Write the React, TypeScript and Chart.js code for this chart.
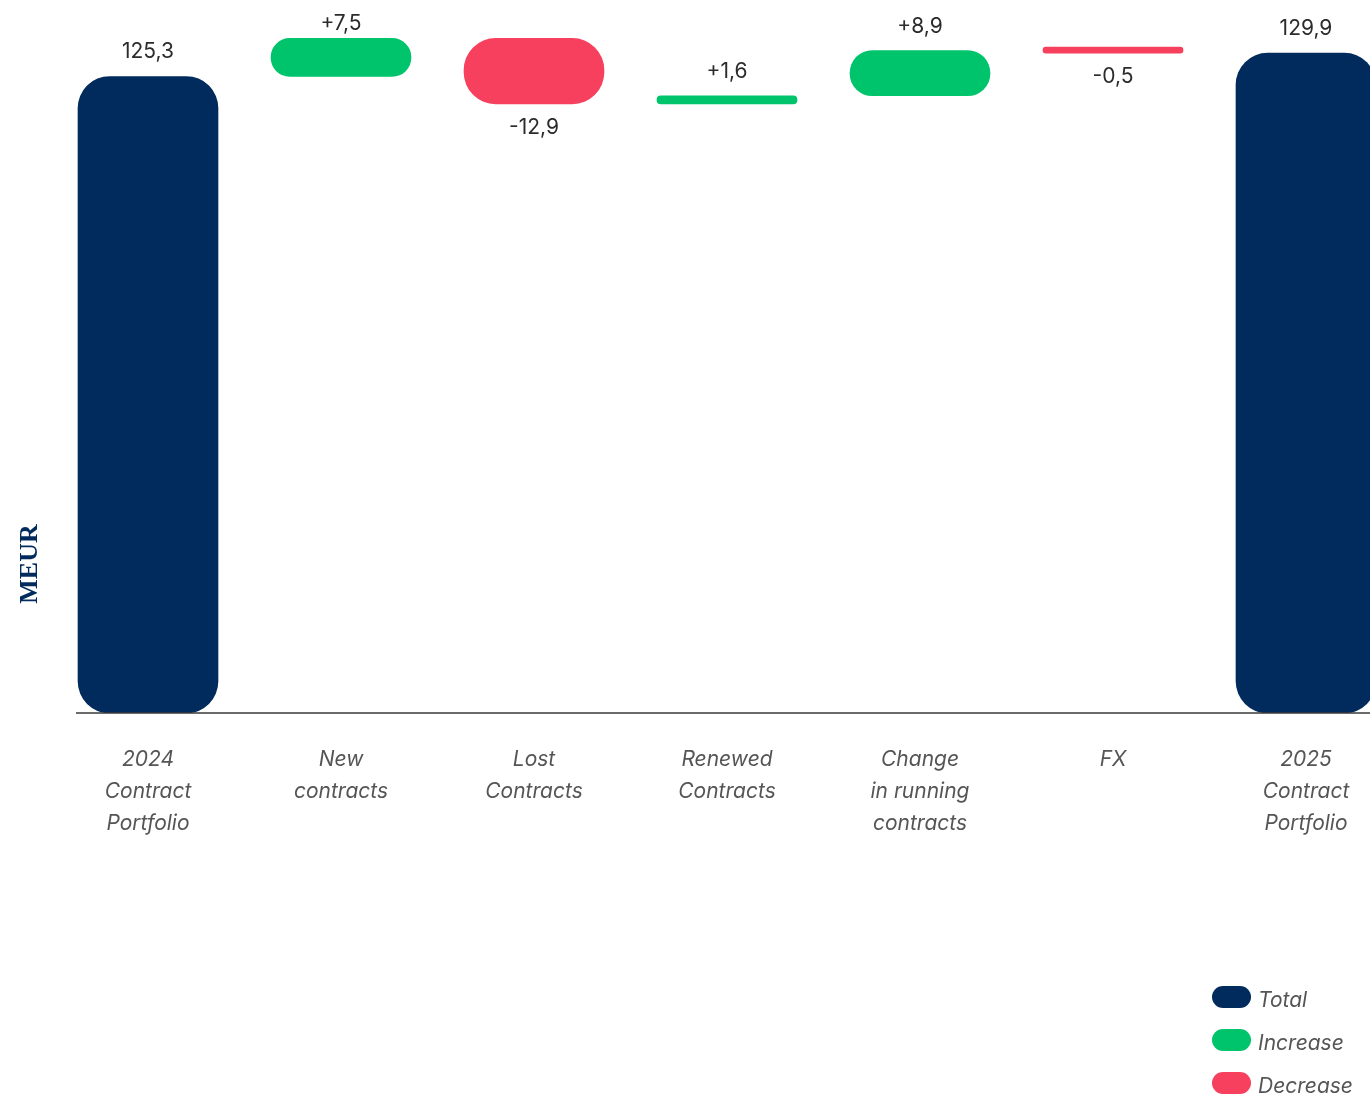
import React, { useEffect, useRef } from 'react';
import { Chart, registerables } from 'chart.js';

Chart.register(...registerables);

// ---------- data ----------
const categories: string[][] = [
  ['2024', 'Contract', 'Portfolio'],
  ['New', 'contracts'],
  ['Lost', 'Contracts'],
  ['Renewed', 'Contracts'],
  ['Change', 'in running', 'contracts'],
  ['FX'],
  ['2025', 'Contract', 'Portfolio'],
];
const kinds: string[] = ['total', 'increase', 'decrease', 'increase', 'increase', 'decrease', 'total'];
const startTotal = 125.3;
const changes: number[] = [7.5, -12.9, 1.6, 8.9, -0.5];
const endTotal = 129.9;
const yMin = 0;
const yMax = 140;
const legendLabels: string[] = ['Total', 'Increase', 'Decrease'];
const legendKinds: string[] = ['total', 'increase', 'decrease'];
const unitLabel = 'MEUR';

// ---------- styles ----------
const COLORS: Record<string, string> = {
  total: '#002B5C',
  increase: '#00C46B',
  decrease: '#F6405D',
};
const FONT = 'Inter';

// build floating waterfall bars
const values: number[] = [startTotal, ...changes, endTotal];
const bars: [number, number][] = [];
bars.push([0, startTotal]);
let running = startTotal;
for (const c of changes) {
  const next = Math.round((running + c) * 10) / 10;
  bars.push([running, next]);
  running = next;
}
bars.push([0, endTotal]);

const fmt = (v: number, isTotal: boolean) =>
  (isTotal ? '' : v > 0 ? '+' : '-') + Math.abs(v).toFixed(1).replace('.', ',');

const valueLabelPlugin = {
  id: 'valueLabels',
  afterDatasetsDraw(chart: any) {
    const ctx = chart.ctx;
    const meta = chart.getDatasetMeta(0);
    ctx.save();
    ctx.font = `400 21px ${FONT}`;
    ctx.fillStyle = '#2b2b2b';
    ctx.textAlign = 'center';
    ctx.textBaseline = 'alphabetic';
    meta.data.forEach((el: any, i: number) => {
      const { x, y, base } = el.getProps(['x', 'y', 'base'], true);
      const top = Math.min(y, base);
      const bottom = Math.max(y, base);
      const txt = fmt(values[i], kinds[i] === 'total');
      if (kinds[i] === 'decrease') {
        ctx.fillText(txt, x, bottom + 30);
      } else {
        ctx.fillText(txt, x, Math.max(top - 18, 30));
      }
    });
    ctx.restore();
  },
};

const baselinePlugin = {
  id: 'baseline',
  afterDatasetsDraw(chart: any) {
    const ctx = chart.ctx;
    const meta = chart.getDatasetMeta(0);
    const first = meta.data[0];
    const { x, width } = first.getProps(['x', 'width'], true);
    const yb = chart.scales.y.getPixelForValue(0);
    ctx.save();
    ctx.strokeStyle = '#3a3a3a';
    ctx.lineWidth = 1.5;
    ctx.beginPath();
    ctx.moveTo(x - width / 2 - 2, yb);
    ctx.lineTo(chart.width, yb);
    ctx.stroke();
    ctx.restore();
  },
};

const unitPlugin = {
  id: 'unitLabel',
  afterDraw(chart: any) {
    const ctx = chart.ctx;
    ctx.save();
    ctx.translate(30, 564);
    ctx.rotate(-Math.PI / 2);
    ctx.font = 'bold 26px "Liberation Serif"';
    ctx.fillStyle = COLORS.total;
    ctx.textAlign = 'center';
    ctx.textBaseline = 'middle';
    ctx.fillText(unitLabel, 0, 0);
    ctx.restore();
  },
};

function WaterfallChart() {
  const ref = useRef<HTMLCanvasElement | null>(null);
  useEffect(() => {
    if (!ref.current) return;
    const chart = new Chart(ref.current, {
      type: 'bar',
      data: {
        labels: categories,
        datasets: [
          {
            data: bars as any,
            backgroundColor: kinds.map((k) => COLORS[k]),
            borderRadius: 32,
            borderSkipped: false,
            barThickness: 140,
            minBarLength: 6,
          },
        ],
      },
      options: {
        responsive: true,
        maintainAspectRatio: false,
        animation: false,
        layout: { padding: { left: 51.5, right: 17.5, top: 1.8, bottom: 226 } },
        plugins: {
          legend: { display: false },
          tooltip: { enabled: false },
        },
        scales: {
          x: {
            grid: { display: false, drawTicks: false },
            border: { display: false },
            ticks: {
              autoSkip: false,
              maxRotation: 0,
              padding: 31,
              color: '#555555',
              font: { family: FONT, size: 21, style: 'italic', lineHeight: '32px' },
            },
          },
          y: { display: false, min: yMin, max: yMax },
        },
      } as any,
      plugins: [valueLabelPlugin, baselinePlugin, unitPlugin],
    });
    return () => chart.destroy();
  }, []);

  return (
    <div style={{ position: 'fixed', left: 0, top: 0, width: 1370, height: 1097, overflow: 'hidden', background: '#fff' }}>
      <div style={{ position: 'relative', width: 1420, height: 1097 }}>
        <canvas ref={ref} />
      </div>
      <div style={{ position: 'absolute', left: 1212, top: 986 }}>
        {legendLabels.map((l, i) => (
          <div key={l} style={{ display: 'flex', alignItems: 'center', height: 22, marginBottom: 21 }}>
            <span
              style={{
                display: 'inline-block',
                width: 39,
                height: 22,
                borderRadius: 11,
                background: COLORS[legendKinds[i]],
              }}
            />
            <span
              style={{
                marginLeft: 7,
                fontFamily: FONT,
                fontStyle: 'italic',
                fontSize: 21,
                lineHeight: '22px',
                color: '#555555',
                position: 'relative',
                top: 3,
                whiteSpace: 'nowrap',
              }}
            >
              {l}
            </span>
          </div>
        ))}
      </div>
    </div>
  );
}

export default function App() {
  return <WaterfallChart />;
}
